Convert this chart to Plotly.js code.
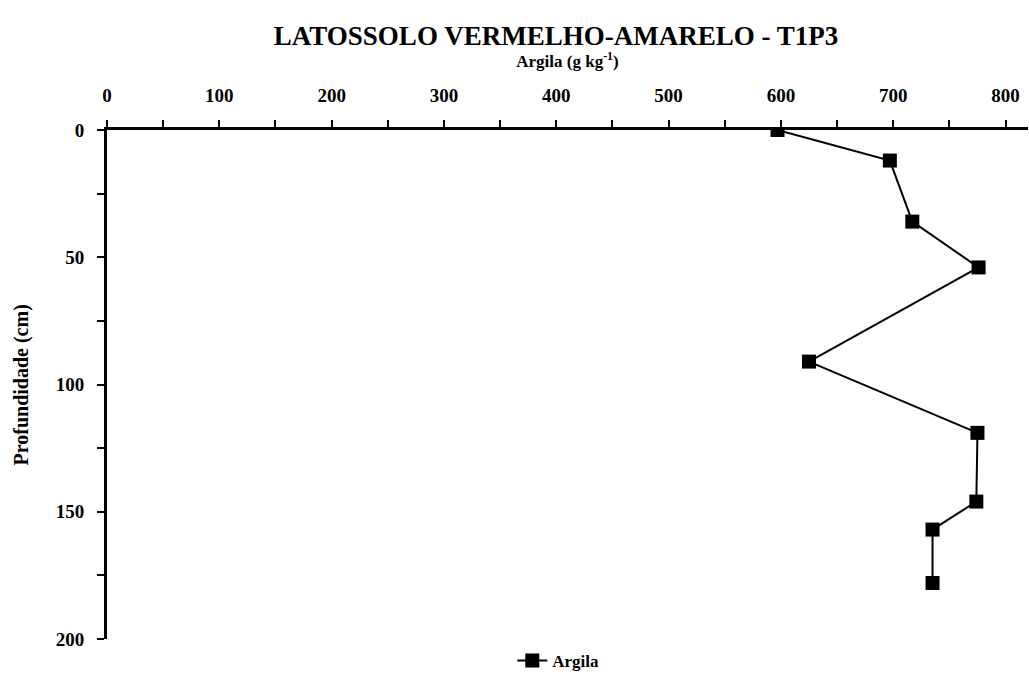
<!DOCTYPE html>
<html>
<head>
<meta charset="utf-8">
<script src="https://cdn.plot.ly/plotly-3.0.1.min.js"></script>
<style>
html,body{margin:0;padding:0;background:#fff;}
#chart{width:1029px;height:680px;}
</style>
</head>
<body>
<div id="chart"></div>
<script>
// Data
const argila = [597, 697, 717, 776, 625, 775, 774, 735, 735];      // g kg-1
const profundidade = [0, 12, 36, 54, 91, 119, 146, 157, 178];       // cm
const seriesName = 'Argila';
const chartTitle = 'LATOSSOLO VERMELHO-AMARELO - T1P3';
const xTitle = 'Argila (g kg<sup>-1</sup>)';
const yTitle = 'Profundidade (cm)';
const xTickVals = [0, 100, 200, 300, 400, 500, 600, 700, 800];
const xTickText = ['0', '100', '200', '300', '400', '500', '600', '700', '800'];
const yTickVals = [0, 50, 100, 150, 200];
const yTickText = ['0', '50', '100', '150', '200'];

const fontFam = '"Liberation Serif", "Times New Roman", serif';

const trace = {
  x: argila,
  y: profundidade,
  type: 'scatter',
  mode: 'lines+markers',
  name: seriesName,
  line: {color: '#000', width: 2},
  marker: {symbol: 'square', size: 14, color: '#000'}
};

const layout = {
  width: 1029,
  height: 680,
  margin: {l: 107, r: 1, t: 130, b: 38},
  paper_bgcolor: '#fff',
  plot_bgcolor: '#fff',
  font: {family: fontFam, color: '#000', size: 17, weight: 'bold'},
  title: {
    text: chartTitle,
    font: {family: fontFam, size: 27, color: '#000', weight: 'bold'},
    x: 0.4875, xanchor: 'center', xref: 'paper',
    y: 0.948, yanchor: 'middle', yref: 'container'
  },
  xaxis: {
    side: 'top',
    range: [0, 820],
    tickmode: 'array',
    tickvals: xTickVals,
    ticktext: xTickText,
    showgrid: false,
    zeroline: false,
    showline: true,
    linecolor: '#000',
    linewidth: 3,
    ticks: 'outside',
    ticklen: 7,
    tickwidth: 2,
    tickcolor: '#000',
    ticklabelstandoff: 10,
    minor: {dtick: 50, ticks: 'outside', ticklen: 7, tickwidth: 2, tickcolor: '#000', showgrid: false},
    tickfont: {family: fontFam, size: 19, color: '#000', weight: 'bold'},
    title: {
      text: xTitle,
      font: {family: fontFam, size: 17, color: '#000', weight: 'bold'},
      standoff: 14
    }
  },
  yaxis: {
    range: [200, 0],
    tickmode: 'array',
    tickvals: yTickVals,
    ticktext: yTickText,
    showgrid: false,
    zeroline: false,
    showline: true,
    linecolor: '#000',
    linewidth: 3,
    ticks: 'outside',
    ticklen: 7,
    tickwidth: 2,
    tickcolor: '#000',
    ticklabelstandoff: 9,
    minor: {dtick: 25, ticks: 'outside', ticklen: 7, tickwidth: 2, tickcolor: '#000', showgrid: false},
    tickfont: {family: fontFam, size: 19, color: '#000', weight: 'bold'}
  },
  annotations: [{
    text: yTitle,
    xref: 'paper', yref: 'paper',
    x: -0.0923, y: 0.5,
    xanchor: 'center', yanchor: 'middle',
    textangle: -90,
    showarrow: false,
    font: {family: fontFam, size: 20, color: '#000', weight: 'bold'}
  }],
  showlegend: true,
  legend: {
    orientation: 'h',
    x: 0.49, xanchor: 'center',
    y: -0.008, yanchor: 'top',
    font: {family: fontFam, size: 17, color: '#000', weight: 'bold'},
    bgcolor: 'rgba(0,0,0,0)'
  }
};

Plotly.newPlot('chart', [trace], layout, {displayModeBar: false, staticPlot: true});
</script>
</body>
</html>
